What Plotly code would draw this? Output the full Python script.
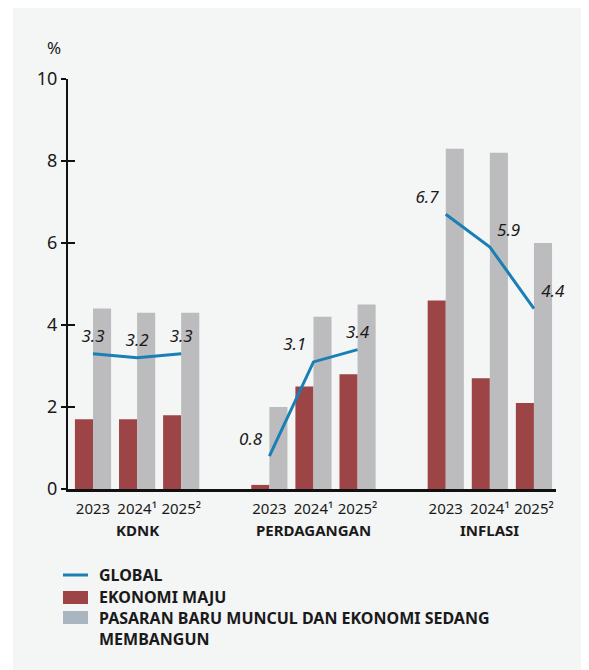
import plotly.graph_objects as go

# data
categories = ["KDNK", "PERDAGANGAN", "INFLASI"]
years = ["2023", "2024¹", "2025²"]

ekonomi_maju = [1.7, 1.7, 1.8, 0.1, 2.5, 2.8, 4.6, 2.7, 2.1]
pasaran_baru = [4.4, 4.3, 4.3, 2.0, 4.2, 4.5, 8.3, 8.2, 6.0]
global_vals = [3.3, 3.2, 3.3, 0.8, 3.1, 3.4, 6.7, 5.9, 4.4]
y_ticks = [0, 2, 4, 6, 8, 10]

legend_names = ["GLOBAL", "EKONOMI MAJU",
                "PASARAN BARU MUNCUL DAN EKONOMI SEDANG<br>MEMBANGUN"]

# style
FONT = "Noto Sans"
INK = "#1a1a1a"
MAROON = "#9d4546"
GREY = "#bcbcbe"
LEGEND_GREY = "#a9b5bf"
BLUE = "#1a7fb5"
BAR_W = 0.41

# page body adds 8px, so the figure is 8px smaller than the window
OFF = 8
W, H = 581, 662
L, R, T, B = 60, 33, 71, 181


def px_x(p):
    # screen pixel -> paper x
    return (p - OFF - L) / (W - L - R)


def px_y(p):
    # screen pixel -> paper y
    return (H - B - (p - OFF)) / (H - T - B)


# one slot per year, an empty slot between groups
x_pos = [g * 4 + i for g in range(len(categories)) for i in range(len(years))]
label_pos = ["top center", "top center", "top center",
             "top left", "top left", "top center",
             "top left", "top right", "top right"]

fig = go.Figure()
fig.add_bar(x=x_pos, y=ekonomi_maju, offset=-BAR_W, width=BAR_W,
            marker=dict(color=MAROON, line_width=0), showlegend=False)
fig.add_bar(x=x_pos, y=pasaran_baru, offset=0, width=BAR_W,
            marker=dict(color=GREY, line_width=0), showlegend=False)

for g in range(len(categories)):
    sl = slice(g * 3, g * 3 + 3)
    fig.add_scatter(
        x=x_pos[sl], y=global_vals[sl], mode="lines+markers+text",
        line=dict(color=BLUE, width=3),
        marker=dict(size=10, color="rgba(0,0,0,0)"),
        text=[f"{v:.1f}" for v in global_vals[sl]],
        textposition=label_pos[sl],
        textfont=dict(family=FONT, size=17, color=INK, style="italic"),
        showlegend=False, cliponaxis=False,
    )

# invisible trace so the second y axis (inside half of ticks) is drawn
fig.add_scatter(x=[None], y=[None], yaxis="y2", showlegend=False)

for g, cat in enumerate(categories):
    fig.add_annotation(x=g * 4 + 1, y=px_y(530), yref="paper", yanchor="middle",
                       text=f"<b>{cat}</b>", showarrow=False,
                       font=dict(family=FONT, size=15, color=INK))

fig.add_annotation(x=px_x(45), y=px_y(48), xref="paper", yref="paper", text="%",
                   yanchor="middle", showarrow=False,
                   font=dict(family=FONT, size=17, color=INK))

# panel background
fig.add_shape(type="rect", xref="paper", yref="paper",
              x0=px_x(13), x1=px_x(W + OFF), y0=px_y(OFF), y1=px_y(H + OFF),
              fillcolor="#f4f5f5", line_width=0, layer="below")

# legend drawn by hand
fig.add_shape(type="line", xref="paper", yref="paper",
              x0=px_x(63), x1=px_x(88), y0=px_y(575), y1=px_y(575),
              line=dict(color=BLUE, width=3))
fig.add_shape(type="rect", xref="paper", yref="paper",
              x0=px_x(63), x1=px_x(88), y0=px_y(591), y1=px_y(604),
              fillcolor=MAROON, line_width=0)
fig.add_shape(type="rect", xref="paper", yref="paper",
              x0=px_x(63), x1=px_x(88), y0=px_y(611), y1=px_y(624),
              fillcolor=LEGEND_GREY, line_width=0)
for name, yc in zip(legend_names, [575, 597, 628.5]):
    fig.add_annotation(x=px_x(97), y=px_y(yc), xref="paper", yref="paper",
                       text=f"<b>{name}</b>", showarrow=False, align="left",
                       xanchor="left", yanchor="middle",
                       font=dict(family=FONT, size=16, color=INK))

fig.update_layout(
    width=W, height=H,
    margin=dict(l=L, r=R, t=T, b=B),
    paper_bgcolor="white", plot_bgcolor="rgba(0,0,0,0)",
    barmode="overlay",
    font=dict(family=FONT, color=INK),
    xaxis=dict(range=[-0.567, 10.5], tickvals=x_pos, ticktext=years * 3,
               tickangle=0, ticks="", ticklabelstandoff=4,
               showgrid=False, zeroline=False,
               showline=True, linewidth=3, linecolor="#111",
               tickfont=dict(size=15, color=INK)),
    yaxis=dict(range=[0, 10], tickvals=y_ticks, ticks="outside", ticklen=5,
               tickwidth=1.5, tickcolor="#111", showgrid=False, zeroline=False,
               showline=True, linewidth=2, linecolor="#111",
               tickfont=dict(size=18, color=INK)),
    yaxis2=dict(range=[0, 10], overlaying="y", side="left", tickvals=y_ticks,
                ticks="inside", ticklen=7, tickwidth=1.5, tickcolor="#111",
                showticklabels=False, showgrid=False, zeroline=False, showline=False),
)

fig.write_html("out.html")
